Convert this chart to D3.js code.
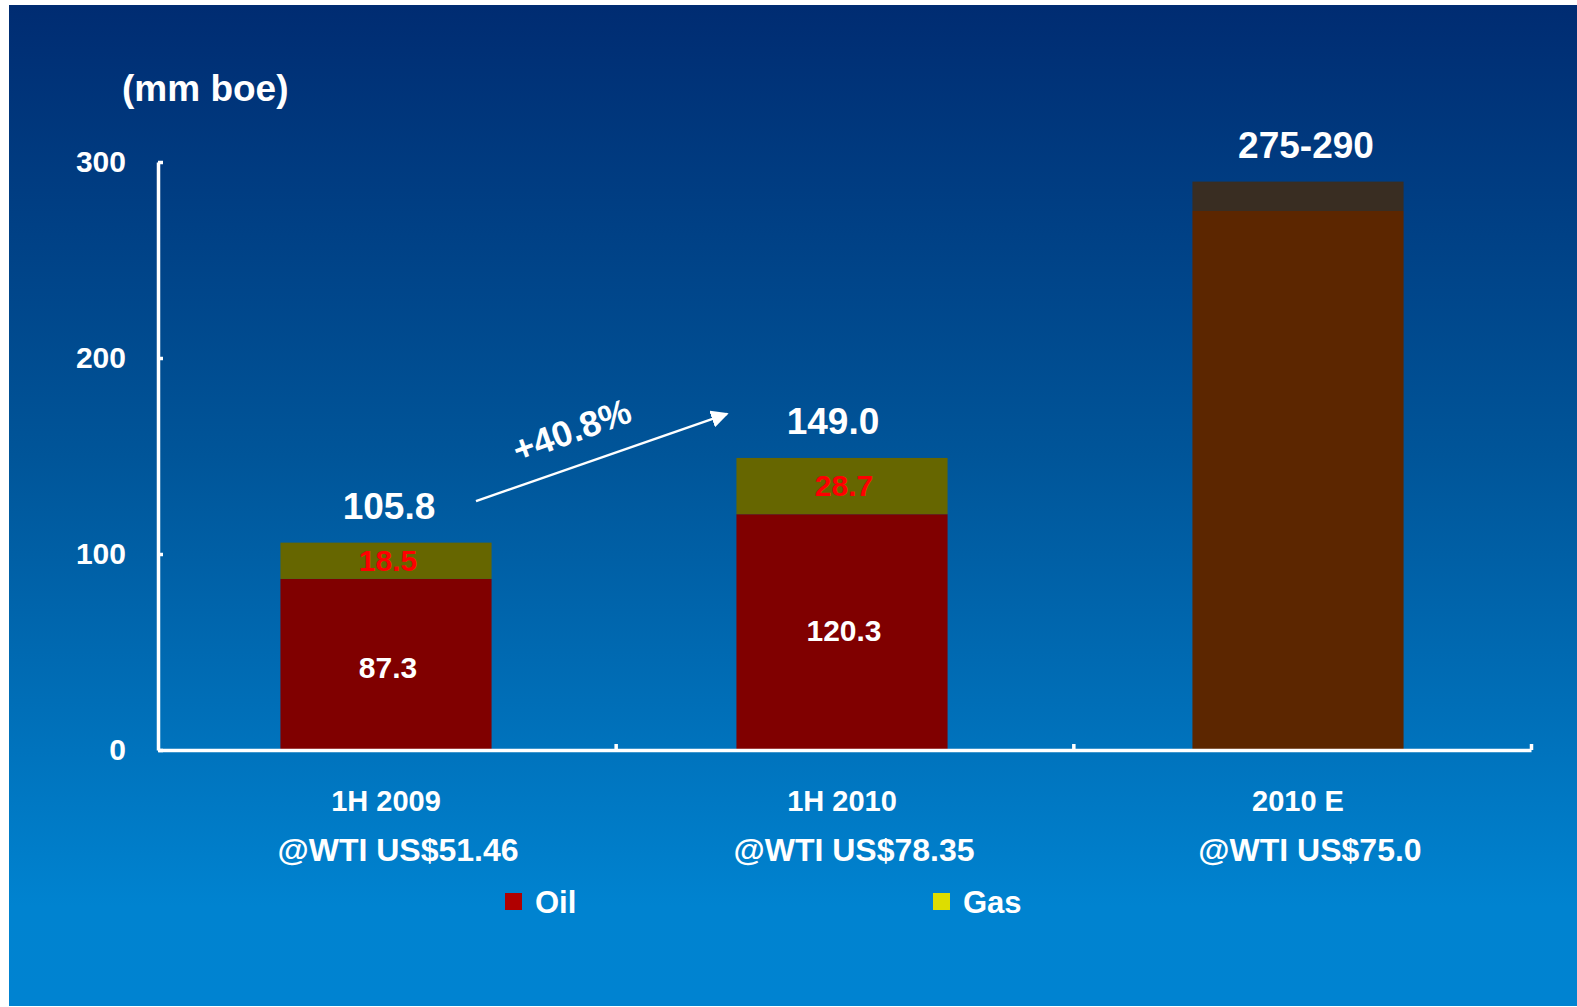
<!DOCTYPE html>
<html>
<head>
<meta charset="utf-8">
<script src="https://cdn.jsdelivr.net/npm/d3@7"></script>
<style>
  body { margin: 0; background: #fff; }
  svg text { font-family: "Liberation Sans", Arial, sans-serif; font-weight: bold; }
</style>
</head>
<body>
<div id="chart"></div>
<script>
// data
var categories = ["1H 2009", "1H 2010", "2010 E"];
var priceLabels = ["@WTI US$51.46", "@WTI US$78.35", "@WTI US$75.0"];
var oilValues = [87.3, 120.3];
var gasValues = [18.5, 28.7];
var totalLabels = ["105.8", "149.0", "275-290"];
var estimateRange = [275, 290];
var yTicks = [0, 100, 200, 300];
var growthLabel = "+40.8%";

var W = 1577, H = 1007;
var margin = {top: 162, left: 158, right: 46, bottom: 257};
var totalNudge = [3, -9, 8]; // label offsets as laid out on the slide

var svg = d3.select("#chart").append("svg")
    .attr("width", W)
    .attr("height", H);

// background gradient panel
var grad = svg.append("defs").append("linearGradient")
    .attr("id", "bg").attr("x1", 0).attr("y1", 0).attr("x2", 0).attr("y2", 1);
grad.append("stop").attr("offset", "0%").attr("stop-color", "#002C72");
grad.append("stop").attr("offset", "45%").attr("stop-color", "#005599");
grad.append("stop").attr("offset", "90%").attr("stop-color", "#0083D0");
grad.append("stop").attr("offset", "100%").attr("stop-color", "#0083D1");

svg.append("rect")
    .attr("x", 9).attr("y", 5)
    .attr("width", W - 9).attr("height", 1001)
    .attr("fill", "url(#bg)");

var y = d3.scaleLinear()
    .domain([0, 300])
    .range([H - margin.bottom, margin.top]);

var x = d3.scaleBand()
    .domain(categories)
    .range([margin.left, margin.left + 3 * 456])
    .paddingInner(0.537)
    .paddingOuter(0.2685);

var xEdge = d3.scaleLinear()
    .domain([0, categories.length])
    .range([margin.left, W - margin.right]);

var g = svg.append("g");

// stacked bars (actuals)
var stackData = oilValues.map(function(d, i) {
  return {cat: categories[i], oil: d, gas: gasValues[i]};
});

g.selectAll(".oil")
    .data(stackData)
  .enter().append("rect")
    .attr("class", "oil")
    .attr("x", function(d) { return x(d.cat); })
    .attr("width", x.bandwidth())
    .attr("y", function(d) { return y(d.oil); })
    .attr("height", function(d) { return y(0) - y(d.oil); })
    .attr("fill", "#800000");

g.selectAll(".gas")
    .data(stackData)
  .enter().append("rect")
    .attr("class", "gas")
    .attr("x", function(d) { return x(d.cat); })
    .attr("width", x.bandwidth())
    .attr("y", function(d) { return y(d.oil + d.gas); })
    .attr("height", function(d) { return y(d.oil) - y(d.oil + d.gas); })
    .attr("fill", "#666600");

// estimate bar, low part + range part
var est = categories[2];
g.append("rect")
    .attr("x", x(est)).attr("width", x.bandwidth())
    .attr("y", y(estimateRange[0]))
    .attr("height", y(0) - y(estimateRange[0]))
    .attr("fill", "#5C2600");
g.append("rect")
    .attr("x", x(est)).attr("width", x.bandwidth())
    .attr("y", y(estimateRange[1]))
    .attr("height", y(estimateRange[0]) - y(estimateRange[1]))
    .attr("fill", "#392D22");

// inner labels
g.selectAll(".oilLabel")
    .data(stackData)
  .enter().append("text")
    .attr("x", function(d) { return x(d.cat) + x.bandwidth() / 2 + 2; })
    .attr("y", function(d, i) { return (y(0) + y(d.oil)) / 2 + (i === 0 ? 14 : 9); })
    .attr("text-anchor", "middle")
    .attr("font-size", 30)
    .attr("fill", "#fff")
    .text(function(d) { return d.oil.toFixed(1); });

g.selectAll(".gasLabel")
    .data(stackData)
  .enter().append("text")
    .attr("x", function(d) { return x(d.cat) + x.bandwidth() / 2 + 2; })
    .attr("y", function(d) { return (y(d.oil) + y(d.oil + d.gas)) / 2 + 10; })
    .attr("text-anchor", "middle")
    .attr("font-size", 30)
    .attr("fill", "#FF0000")
    .text(function(d) { return d.gas.toFixed(1); });

// totals on top
var tops = [oilValues[0] + gasValues[0], oilValues[1] + gasValues[1], estimateRange[1]];
g.selectAll(".total")
    .data(categories)
  .enter().append("text")
    .attr("x", function(d, i) { return x(d) + x.bandwidth() / 2 + totalNudge[i]; })
    .attr("y", function(d, i) { return y(tops[i]) - 24; })
    .attr("text-anchor", "middle")
    .attr("font-size", 37)
    .attr("fill", "#fff")
    .text(function(d, i) { return totalLabels[i]; });

// axes
var yAxis = g.append("g")
    .attr("transform", "translate(" + margin.left + ",0)")
    .call(d3.axisLeft(y).tickValues(yTicks).tickSize(-5).tickSizeOuter(0).tickPadding(32));
var xAxis = g.append("g")
    .attr("transform", "translate(0," + y(0) + ")")
    .call(d3.axisBottom(xEdge).tickValues([1, 2, 3]).tickSize(-6).tickSizeOuter(0).tickFormat(""));

[yAxis, xAxis].forEach(function(a) {
  a.select(".domain").attr("stroke", "#fff").attr("stroke-width", 3.5);
  a.selectAll(".tick line").attr("stroke", "#fff").attr("stroke-width", 3.5);
});
yAxis.selectAll(".tick text")
    .attr("fill", "#fff")
    .attr("font-size", 30)
    .attr("font-family", "Liberation Sans, Arial, sans-serif")
    .attr("font-weight", "bold");

// unit label
svg.append("text")
    .attr("x", 122).attr("y", 101)
    .attr("font-size", 37)
    .attr("fill", "#fff")
    .text("(mm boe)");

// category labels
g.selectAll(".cat")
    .data(categories)
  .enter().append("text")
    .attr("x", function(d) { return x(d) + x.bandwidth() / 2; })
    .attr("y", 811)
    .attr("text-anchor", "middle")
    .attr("font-size", 29)
    .attr("fill", "#fff")
    .text(function(d) { return d; });

g.selectAll(".price")
    .data(priceLabels)
  .enter().append("text")
    .attr("x", function(d, i) { return x(categories[i]) + x.bandwidth() / 2 + 12; })
    .attr("y", 861)
    .attr("text-anchor", "middle")
    .attr("font-size", 32)
    .attr("fill", "#fff")
    .text(function(d) { return d; });

// growth arrow
svg.append("defs").append("marker")
    .attr("id", "arrow")
    .attr("viewBox", "0 0 10 10")
    .attr("refX", 9).attr("refY", 5)
    .attr("markerWidth", 7).attr("markerHeight", 7)
    .attr("markerUnits", "strokeWidth")
    .attr("orient", "auto")
  .append("path")
    .attr("d", "M0,0 L10,5 L0,10 z")
    .attr("fill", "#fff");

var x0 = x(categories[0]) + x.bandwidth() / 2 + 90;
var x1 = x(categories[1]) + x.bandwidth() / 2 - 115;
svg.append("line")
    .attr("x1", x0).attr("y1", y(127))
    .attr("x2", x1).attr("y2", y(171.5))
    .attr("stroke", "#fff")
    .attr("stroke-width", 2.5)
    .attr("marker-end", "url(#arrow)");

svg.append("text")
    .attr("transform", "translate(576,442) rotate(-20)")
    .attr("text-anchor", "middle")
    .attr("font-size", 36)
    .attr("fill", "#fff")
    .text(growthLabel);

// legend
var legendItems = [{name: "Oil", color: "#B00000"}, {name: "Gas", color: "#DDDD00"}];
var leg = svg.selectAll(".legend")
    .data(legendItems)
  .enter().append("g")
    .attr("transform", function(d, i) { return "translate(" + (505 + i * 428) + ",893)"; });
leg.append("rect")
    .attr("width", 17).attr("height", 17)
    .attr("fill", function(d) { return d.color; });
leg.append("text")
    .attr("x", 30).attr("y", 20)
    .attr("font-size", 31)
    .attr("fill", "#fff")
    .text(function(d) { return d.name; });
</script>
</body>
</html>
